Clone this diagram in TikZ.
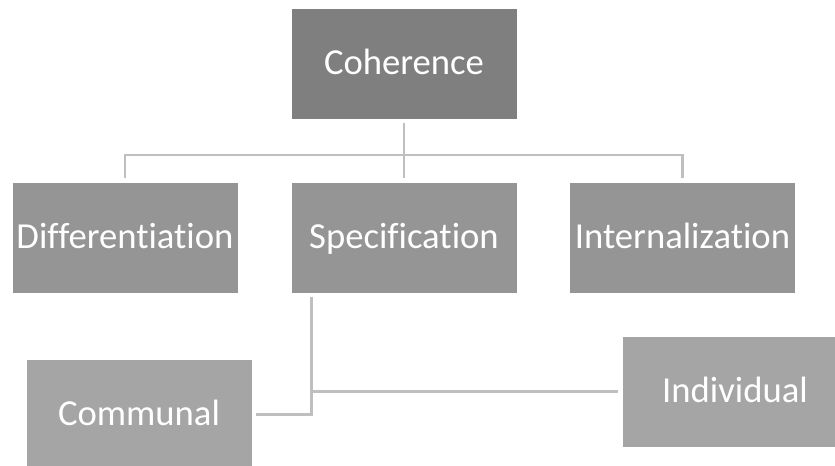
\documentclass[tikz,border=0pt]{standalone}
\usepackage{fontspec}
\setmainfont{Carlito}[RawFeature={-liga;-clig;-dlig}]
\usepackage{tikz}
\usetikzlibrary{positioning}

\definecolor{boxtop}{HTML}{7F7F7F}
\definecolor{boxmid}{HTML}{959595}
\definecolor{boxlow}{HTML}{A5A5A5}
\definecolor{linkgray}{HTML}{BFBFBF}

\begin{document}
\begin{tikzpicture}[x=0.75pt, y=-0.75pt,
  every node/.style={font=\fontsize{27.5}{32}\selectfont},
  card/.style={rectangle, draw=white, line width=0.4pt, text=white,
    minimum width=169.5pt, minimum height=83.25pt, inner sep=0pt,
    text height=21.75pt, text depth=6pt},
  link/.style={draw=linkgray, line width=2pt, shorten <=3pt, shorten >=3pt}]
  \useasboundingbox (0,0) rectangle (835,465);
  \clip (0,0) rectangle (835,465);

  % Top level
  \node[card, fill=boxtop] (coh) at (404,63.5) {Coherence};

  % Second level
  \node[card, fill=boxmid] (diff) at (125,237.5) {Differentiation};
  \node[card, fill=boxmid] (spec) at (404,237.5) {Specification};
  \node[card, fill=boxmid] (intern) at (682.5,237.5) {Internalization};

  % Third level
  \node[card, fill=boxlow] (comm) at (139,414.5) {Communal};
  \node[card, fill=boxlow] (indiv) at (735,391.5) {Individual};

  % Connectors
  \coordinate (bus) at (404,155);
  \draw[link, shorten >=0pt] (coh) -- (bus);
  \draw[link, shorten <=0pt] (bus) -| (diff);
  \draw[link, shorten <=0pt] (bus) -- (spec);
  \draw[link, shorten <=0pt] (bus) -| (intern);

  \draw[link] ([xshift=15.75pt]spec.south west) |- (comm);
  \draw[link] ([xshift=15.75pt]spec.south west) |- (indiv);
\end{tikzpicture}
\end{document}
